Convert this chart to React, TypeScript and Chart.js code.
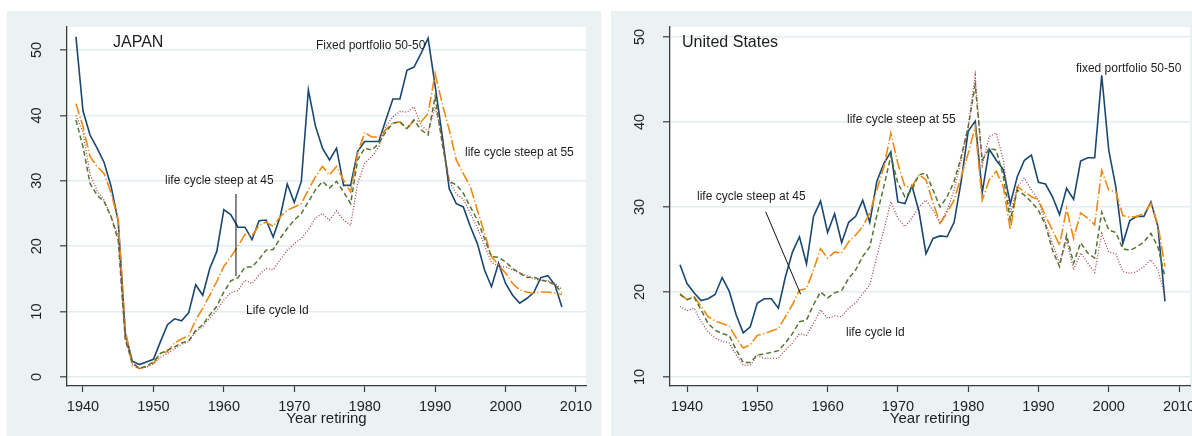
import React, { useEffect, useRef } from 'react';
import { Chart, registerables } from 'chart.js';

Chart.register(...registerables);

// ---------- data ----------
const years = [
  1939, 1940, 1941, 1942, 1943, 1944, 1945, 1946, 1947, 1948,
  1949, 1950, 1951, 1952, 1953, 1954, 1955, 1956, 1957, 1958,
  1959, 1960, 1961, 1962, 1963, 1964, 1965, 1966, 1967, 1968,
  1969, 1970, 1971, 1972, 1973, 1974, 1975, 1976, 1977, 1978,
  1979, 1980, 1981, 1982, 1983, 1984, 1985, 1986, 1987, 1988,
  1989, 1990, 1991, 1992, 1993, 1994, 1995, 1996, 1997, 1998,
  1999, 2000, 2001, 2002, 2003, 2004, 2005, 2006, 2007, 2008,
];

const xTicks = [1940, 1950, 1960, 1970, 1980, 1990, 2000, 2010];
const jpYTicks = [0, 10, 20, 30, 40, 50];
const usYTicks = [10, 20, 30, 40, 50];

// Japan
const jpFixed = [
  52.0, 40.7, 37.0, 35.0, 32.8, 29.1, 23.8, 6.7, 2.4, 1.9,
  2.3, 2.7, 5.4, 8.0, 8.9, 8.6, 9.8, 14.1, 12.5, 16.6,
  19.2, 25.6, 24.8, 22.9, 22.9, 21.0, 23.9, 24.0, 21.4, 24.5,
  29.5, 26.7, 29.9, 43.9, 38.4, 35.0, 33.2, 35.0, 29.3, 29.3,
  34.5, 36.0, 36.0, 36.0, 39.3, 42.5, 42.5, 46.9, 47.4, 49.5,
  51.8, 44.5, 37.0, 28.8, 26.5, 26.0, 23.0, 20.4, 16.4, 13.8,
  17.4, 14.3, 12.5, 11.3, 12.0, 12.9, 15.2, 15.5, 14.1, 10.7,
];
const jpSteep45 = [
  41.8, 38.3, 33.7, 32.2, 31.1, 28.1, 24.0, 7.2, 1.8, 1.3,
  1.6, 2.1, 3.6, 3.9, 5.2, 5.8, 6.3, 8.7, 10.5, 12.5,
  14.6, 16.9, 18.4, 20.0, 21.8, 21.6, 23.2, 23.7, 23.0, 24.5,
  25.5, 26.0, 26.5, 28.6, 30.6, 32.2, 30.9, 32.2, 30.1, 28.3,
  34.2, 37.4, 36.7, 36.7, 37.8, 38.9, 39.0, 37.9, 39.3, 39.0,
  40.3, 46.4, 41.8, 37.8, 33.2, 31.1, 29.1, 25.5, 22.0, 18.4,
  17.1, 15.9, 14.3, 13.3, 13.0, 12.8, 13.0, 13.0, 12.8, 12.6,
];
const jpSteep55 = [
  39.3, 35.2, 29.6, 27.8, 26.8, 24.5, 20.9, 5.7, 2.2, 1.3,
  1.7, 2.3, 3.6, 4.1, 4.6, 5.2, 5.5, 7.1, 8.0, 9.5,
  10.8, 13.0, 14.7, 15.2, 16.8, 16.8, 18.0, 19.4, 19.5, 21.2,
  22.7, 24.0, 25.0, 26.8, 28.6, 29.9, 28.9, 29.9, 28.3, 26.5,
  33.2, 35.0, 34.7, 35.7, 37.5, 38.8, 39.0, 38.0, 39.3, 37.8,
  37.0, 42.9, 35.7, 29.9, 29.4, 28.1, 26.0, 24.0, 21.2, 18.4,
  18.3, 17.6, 16.6, 15.9, 15.2, 15.3, 14.8, 14.6, 14.1, 12.9,
];
const jpLd = [
  40.0, 37.5, 31.0, 28.5, 27.0, 24.5, 21.5, 6.0, 2.0, 1.3,
  1.5, 2.0, 3.0, 3.6, 4.3, 5.0, 5.4, 6.9, 7.7, 9.0,
  10.2, 11.8, 12.9, 13.2, 14.8, 14.3, 15.6, 16.6, 16.4, 17.9,
  19.4, 20.4, 21.2, 22.5, 24.3, 25.0, 24.0, 25.4, 24.0, 23.2,
  29.6, 32.7, 33.7, 35.2, 38.3, 39.8, 40.6, 40.5, 41.3, 38.5,
  37.5, 41.3, 36.5, 30.0, 28.0, 27.2, 25.0, 22.8, 20.2, 17.5,
  17.0, 16.8, 16.4, 15.9, 15.5, 15.0, 14.8, 14.7, 14.3, 13.4,
];

// United States
const usFixed = [
  23.2, 21.0, 19.9, 19.0, 19.2, 19.7, 21.7, 20.1, 17.3, 15.2,
  15.9, 18.7, 19.2, 19.2, 18.1, 21.8, 24.7, 26.5, 23.3, 28.9,
  30.7, 27.0, 29.2, 25.8, 28.2, 28.9, 30.8, 28.2, 33.0, 35.1,
  36.5, 30.6, 30.4, 32.5, 29.5, 24.5, 26.3, 26.6, 26.5, 28.2,
  33.0, 38.9, 40.1, 31.7, 36.8, 35.5, 34.4, 30.4, 33.6, 35.5,
  36.1, 32.9, 32.7, 31.2, 29.1, 32.2, 30.9, 35.4, 35.8, 35.8,
  45.5, 36.7, 32.4, 25.7, 28.4, 28.9, 28.9, 30.6, 27.7, 18.9,
];
const usSteep45 = [
  19.8, 19.1, 19.5, 18.3, 17.1, 16.6, 16.3, 16.0, 14.6, 13.4,
  13.8, 14.9, 15.1, 15.4, 15.7, 17.1, 18.5, 20.2, 20.4, 22.6,
  25.1, 24.0, 24.7, 24.6, 25.9, 26.7, 27.7, 29.3, 32.0, 34.7,
  38.7, 35.1, 32.4, 32.4, 33.8, 33.2, 30.5, 28.1, 29.3, 30.8,
  33.6, 36.3, 39.4, 30.8, 33.2, 34.2, 32.4, 27.3, 32.4, 31.8,
  31.2, 30.9, 28.9, 27.3, 25.5, 29.8, 26.3, 29.3, 28.7, 27.9,
  34.3, 32.0, 31.8, 29.0, 28.8, 28.9, 29.2, 30.4, 27.9, 23.0,
];
const usSteep55 = [
  19.7, 19.1, 19.4, 17.9, 16.3, 15.5, 15.1, 14.9, 13.2, 11.7,
  11.7, 12.6, 12.7, 12.9, 13.1, 14.0, 15.1, 16.5, 16.7, 18.5,
  20.0, 19.3, 19.9, 20.2, 21.6, 22.6, 24.2, 25.3, 29.0, 32.4,
  36.0, 32.8, 31.2, 32.0, 33.8, 34.0, 32.0, 30.0, 31.2, 33.0,
  35.9, 39.4, 44.4, 35.5, 36.9, 36.7, 33.6, 28.5, 32.0, 31.4,
  30.6, 29.6, 27.9, 24.9, 23.0, 26.7, 23.4, 25.8, 24.6, 24.0,
  29.4, 27.3, 27.0, 25.1, 24.9, 25.3, 25.9, 26.9, 25.3, 21.8,
];
const usLd = [
  18.3, 17.8, 18.1, 16.5, 15.3, 14.6, 14.2, 14.0, 12.6, 11.4,
  11.4, 12.5, 12.2, 12.2, 12.2, 13.2, 14.0, 15.1, 14.9, 16.3,
  17.9, 16.9, 17.2, 17.1, 18.1, 18.7, 19.8, 20.8, 24.2, 27.3,
  30.6, 28.7, 27.7, 28.7, 30.0, 30.8, 29.6, 28.1, 29.6, 32.0,
  35.5, 39.4, 45.5, 34.9, 38.3, 38.7, 35.5, 29.3, 32.4, 33.4,
  32.0, 30.8, 28.1, 25.7, 23.4, 26.1, 22.6, 24.6, 23.4, 22.3,
  26.9, 24.7, 24.5, 22.4, 22.2, 22.4, 23.0, 23.8, 22.6, 19.6,
];

// text labels
const jpNotes = [
  { text: 'JAPAN', x: 1944.26, y: 51.2, size: 16 },
  { text: 'Fixed portfolio 50-50', x: 1973.08, y: 50.6, size: 12 },
  { text: 'life cycle steep at 45', x: 1951.64, y: 29.97, size: 12 },
  { text: 'life cycle steep at 55', x: 1994.24, y: 34.25, size: 12 },
  { text: 'Life cycle ld', x: 1963.14, y: 10.09, size: 12 },
];
const jpPointers = [{ x1: 1961.72, y1: 27.98, x2: 1961.72, y2: 15.44 }];

const usNotes = [
  { text: 'United States', x: 1939.29, y: 49.29, size: 16 },
  { text: 'life cycle steep at 45', x: 1941.42, y: 31.21, size: 12 },
  { text: 'life cycle steep at 55', x: 1962.76, y: 40.32, size: 12 },
  { text: 'fixed portfolio 50-50', x: 1995.33, y: 46.32, size: 12 },
  { text: 'life cycle ld', x: 1962.62, y: 15.18, size: 12 },
];
const usPointers = [{ x1: 1951.19, y1: 29.45, x2: 1956.17, y2: 19.73 }];

// ---------- style ----------
const FONT = '"Liberation Sans", Arial, Helvetica, sans-serif';
const OUTER = '#EAF2F3';
const GRID = '#E3ECEE';
const AXIS = '#3c3c3c';
const TEXT = '#1e1e1e';
const BLUE = '#1A476F';
const ORANGE = '#EE8A10';
const GREEN = '#55752F';
const PINK = '#A8434E';

type Note = { text: string; x: number; y: number; size: number };
type Pointer = { x1: number; y1: number; x2: number; y2: number };

type PanelProps = {
  left: number;
  width: number;
  axisWidth: number;
  rightPad: number;
  xMin: number;
  xMax: number;
  yMin: number;
  yMax: number;
  yTicks: number[];
  fixed: number[];
  steep45: number[];
  steep55: number[];
  ld: number[];
  notes: Note[];
  pointers: Pointer[];
};

const PANEL_TOP = 11;
const PANEL_H = 425;

function toPoints(vals: number[]) {
  return years.map((yr, i) => ({ x: yr, y: vals[i] }));
}

function Panel(p: PanelProps) {
  const ref = useRef<HTMLCanvasElement>(null);

  useEffect(() => {
    const canvas = ref.current;
    if (!canvas) return;

    const bgPlugin = {
      id: 'stataBg',
      beforeDraw(chart: any) {
        const { ctx, chartArea: a, width, height } = chart;
        ctx.save();
        ctx.fillStyle = OUTER;
        ctx.fillRect(0, 0, width, height);
        ctx.fillStyle = '#ffffff';
        ctx.fillRect(a.left, a.top, a.right - a.left, a.bottom - a.top);
        ctx.restore();
      },
    };

    const notesPlugin = {
      id: 'notes',
      afterDatasetsDraw(chart: any) {
        const { ctx } = chart;
        const xs = chart.scales.x;
        const ys = chart.scales.y;
        ctx.save();
        ctx.fillStyle = TEXT;
        ctx.textAlign = 'left';
        ctx.textBaseline = 'middle';
        p.notes.forEach((n) => {
          ctx.font = `${n.size}px ${FONT}`;
          ctx.fillText(n.text, xs.getPixelForValue(n.x), ys.getPixelForValue(n.y));
        });
        ctx.strokeStyle = '#111';
        ctx.lineWidth = 1;
        p.pointers.forEach((l) => {
          ctx.beginPath();
          ctx.moveTo(xs.getPixelForValue(l.x1), ys.getPixelForValue(l.y1));
          ctx.lineTo(xs.getPixelForValue(l.x2), ys.getPixelForValue(l.y2));
          ctx.stroke();
        });
        ctx.restore();
      },
    };

    const line = (label: string, vals: number[], color: string, width: number, dash: number[]) => ({
      label,
      data: toPoints(vals),
      borderColor: color,
      backgroundColor: color,
      borderWidth: width,
      borderDash: dash,
      pointRadius: 0,
      tension: 0,
      fill: false,
    });

    const chart = new Chart(canvas, {
      type: 'line',
      data: {
        datasets: [
          line('Life cycle ld', p.ld, PINK, 1.3, [1, 1.8]),
          line('life cycle steep at 55', p.steep55, GREEN, 1.5, [5, 3]),
          line('life cycle steep at 45', p.steep45, ORANGE, 1.6, [11, 2.5, 1.2, 2.5]),
          line('Fixed portfolio 50-50', p.fixed, BLUE, 1.6, []),
        ],
      },
      options: {
        animation: false,
        responsive: false,
        maintainAspectRatio: false,
        events: [],
        layout: { padding: { left: 0, top: 16, right: p.rightPad, bottom: 0 } },
        plugins: {
          legend: { display: false },
          tooltip: { enabled: false },
        },
        scales: {
          x: {
            type: 'linear',
            min: p.xMin,
            max: p.xMax,
            afterBuildTicks: (s: any) => {
              s.ticks = xTicks.map((v) => ({ value: v }));
            },
            afterFit: (s: any) => {
              s.height = 50;
              s.paddingLeft = 0;
              s.paddingRight = 0;
            },
            border: { color: AXIS, width: 1.3 },
            grid: {
              drawOnChartArea: false,
              drawTicks: true,
              tickLength: 6,
              tickColor: AXIS,
              tickWidth: 1.2,
            },
            ticks: {
              padding: 6,
              minRotation: 0,
              maxRotation: 0,
              color: TEXT,
              font: { family: FONT, size: 14.5 },
              callback: (v: any) => String(v),
            },
            title: {
              display: true,
              text: 'Year retiring',
              color: TEXT,
              font: { family: FONT, size: 15 },
              padding: { top: 0, bottom: 8 },
            },
          },
          y: {
            type: 'linear',
            min: p.yMin,
            max: p.yMax,
            afterBuildTicks: (s: any) => {
              s.ticks = p.yTicks.map((v) => ({ value: v }));
            },
            afterFit: (s: any) => {
              s.width = p.axisWidth;
              s.paddingTop = 0;
              s.paddingBottom = 0;
            },
            border: { color: AXIS, width: 1.3 },
            grid: {
              color: GRID,
              lineWidth: 1.6,
              drawTicks: true,
              tickLength: 7,
              tickColor: AXIS,
              tickWidth: 1.2,
            },
            ticks: {
              minRotation: 90,
              maxRotation: 90,
              crossAlign: 'center',
              padding: 15,
              color: TEXT,
              font: { family: FONT, size: 14.5 },
              callback: (v: any) => String(v),
            },
          },
        },
      } as any,
      plugins: [bgPlugin, notesPlugin],
    });

    return () => chart.destroy();
  }, []);

  return (
    <canvas
      ref={ref}
      width={p.width}
      height={PANEL_H}
      style={{ position: 'absolute', left: p.left, top: PANEL_TOP, width: p.width, height: PANEL_H }}
    />
  );
}

export default function App() {
  return (
    <div style={{ position: 'absolute', left: 0, top: 0, width: 1192, height: 436, background: '#ffffff', overflow: 'hidden' }}>
      <Panel
        left={7}
        width={594}
        axisWidth={60}
        rightPad={15}
        xMin={1937.73}
        xMax={2011.42}
        yMin={-1.38}
        yMax={53.52}
        yTicks={jpYTicks}
        fixed={jpFixed}
        steep45={jpSteep45}
        steep55={jpSteep55}
        ld={jpLd}
        notes={jpNotes}
        pointers={jpPointers}
      />
      <Panel
        left={611}
        width={581}
        axisWidth={59}
        rightPad={2}
        xMin={1937.58}
        xMax={2011.56}
        yMin={8.94}
        yMax={51.18}
        yTicks={usYTicks}
        fixed={usFixed}
        steep45={usSteep45}
        steep55={usSteep55}
        ld={usLd}
        notes={usNotes}
        pointers={usPointers}
      />
    </div>
  );
}
